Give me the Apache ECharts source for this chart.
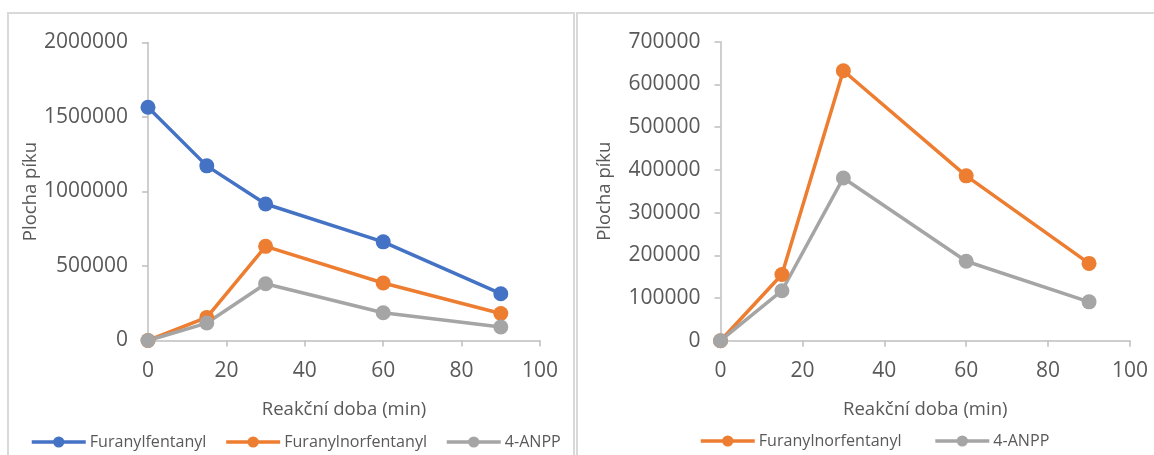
<!DOCTYPE html>
<html>
<head>
<meta charset="utf-8">
<script src="https://cdn.jsdelivr.net/npm/echarts@6/dist/echarts.min.js"></script>
<style>
  html, body { margin: 0; padding: 0; background: #ffffff; }
  #chart { width: 1154px; height: 455px; }
</style>
</head>
<body>
<div id="chart"></div>
<script>
// Reaction time points (min)
const times = [0, 15, 30, 60, 90];

// Peak areas per compound
const furanylfentanyl = [1565000, 1172000, 916000, 662000, 314000];
const furanylnorfentanyl = [0, 155000, 632000, 386000, 181000];
const anpp = [0, 117000, 381000, 186000, 91000];

// Axis setup
const xTicks = { min: 0, max: 100, interval: 20 };
const yLeft = { min: 0, max: 2000000, interval: 500000 };
const yRight = { min: 0, max: 700000, interval: 100000 };

const xTitle = 'Reakční doba (min)';
const yTitle = 'Plocha píku';
const names = ['Furanylfentanyl', 'Furanylnorfentanyl', '4-ANPP'];
const colors = ['#4472C4', '#ED7D31', '#A5A5A5'];

const FONT = '"Open Sans", "Noto Sans", sans-serif';
const TEXT = '#595959';
const AXIS = '#BFBFBF';

const pairs = (vals) => times.map((t, i) => [t, vals[i]]);

function xAxis(gridIndex) {
  return {
    type: 'value', gridIndex,
    min: xTicks.min, max: xTicks.max, interval: xTicks.interval,
    name: xTitle, nameLocation: 'middle', nameGap: 60,
    nameTextStyle: { color: TEXT, fontSize: 18.5, fontFamily: FONT },
    axisLine: { show: true, lineStyle: { color: AXIS, width: 1.5 } },
    axisTick: { show: true, length: 6, lineStyle: { color: AXIS, width: 1.5 } },
    axisLabel: { color: TEXT, fontSize: 21, fontFamily: FONT, margin: 20,
      formatter: (v) => String(v) },
    splitLine: { show: false }
  };
}

function yAxis(gridIndex, r, gap) {
  return {
    type: 'value', gridIndex,
    min: r.min, max: r.max, interval: r.interval,
    name: yTitle, nameLocation: 'middle', nameGap: gap, nameRotate: 90,
    nameTextStyle: { color: TEXT, fontSize: 18.5, fontFamily: FONT },
    axisLine: { show: true, lineStyle: { color: AXIS, width: 1.5 } },
    axisTick: { show: true, length: 6, lineStyle: { color: AXIS, width: 1.5 } },
    axisLabel: { color: TEXT, fontSize: 21, fontFamily: FONT, margin: 20,
      formatter: (v) => String(v) },
    splitLine: { show: false }
  };
}

function line(name, vals, color, idx) {
  return {
    name, type: 'line', xAxisIndex: idx, yAxisIndex: idx,
    data: pairs(vals),
    symbol: 'circle', symbolSize: 15,
    lineStyle: { color, width: 3.5 },
    itemStyle: { color },
    animation: false
  };
}

const legendText = { color: TEXT, fontSize: 16.1, fontFamily: FONT, padding: [0, 0, 0, -1] };

const chart = echarts.init(document.getElementById('chart'), null, { renderer: 'canvas' });
chart.setOption({
  backgroundColor: '#ffffff',
  animation: false,
  graphic: [
    { type: 'rect', shape: { x: 8, y: 13, width: 566, height: 460 },
      style: { fill: 'none', stroke: '#D9D9D9', lineWidth: 2 }, silent: true },
    { type: 'rect', shape: { x: 577, y: 13, width: 600, height: 460 },
      style: { fill: 'none', stroke: '#D9D9D9', lineWidth: 2 }, silent: true }
  ],
  grid: [
    { left: 148, top: 42.5, width: 392, height: 298 },
    { left: 720.5, top: 41.7, width: 409.5, height: 299 }
  ],
  xAxis: [xAxis(0), xAxis(1)],
  yAxis: [yAxis(0, yLeft, 106), yAxis(1, yRight, 106)],
  legend: [
    { data: names, left: 30, top: 434, padding: 0, itemWidth: 54, itemHeight: 14, itemGap: 18,
      lineStyle: { width: 3.5 }, textStyle: legendText, selectedMode: false },
    { data: names.slice(1), left: 699, top: 433, padding: 0, itemWidth: 54, itemHeight: 14, itemGap: 32,
      lineStyle: { width: 3.5 }, textStyle: legendText, selectedMode: false }
  ],
  series: [
    line(names[0], furanylfentanyl, colors[0], 0),
    line(names[1], furanylnorfentanyl, colors[1], 0),
    line(names[2], anpp, colors[2], 0),
    line(names[1], furanylnorfentanyl, colors[1], 1),
    line(names[2], anpp, colors[2], 1)
  ]
});
</script>
</body>
</html>
